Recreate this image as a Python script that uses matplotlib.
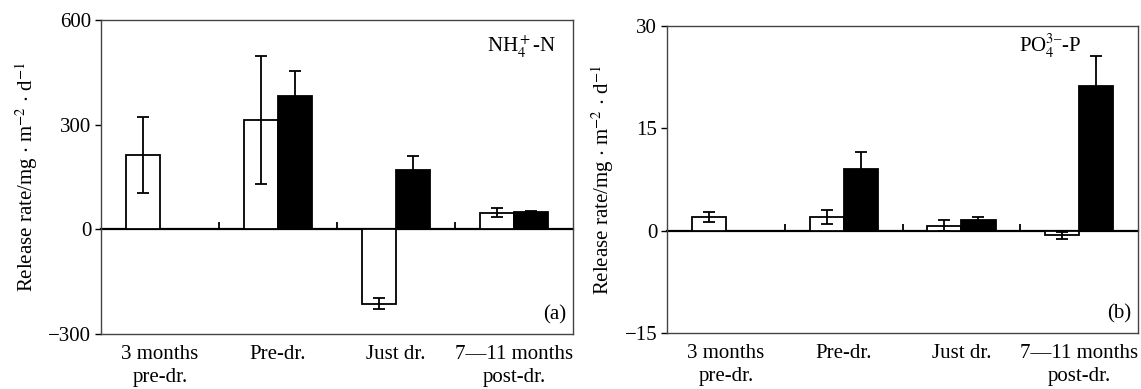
import numpy as np
import matplotlib.pyplot as plt

# Release rates; white = first series, black = second series
periods = ["3 months\npre-dr.", "Pre-dr.", "Just dr.", "7\u201411 months\npost-dr."]

nh4_white = [213, 313, -213, 48]
nh4_white_err = [108, 184, 16, 12]
nh4_black = [np.nan, 381, 171, 49]
nh4_black_err = [np.nan, 74, 39, 5]

po4_white = [2.0, 2.0, 0.7, -0.7]
po4_white_err = [0.7, 1.0, 0.8, 0.5]
po4_black = [np.nan, 9.1, 1.6, 21.2]
po4_black_err = [np.nan, 2.4, 0.4, 4.4]

plt.rcParams["font.family"] = ["Liberation Serif", "DejaVu Serif"]
plt.rcParams["mathtext.fontset"] = "stix"
plt.rcParams["font.size"] = 15
plt.rcParams["axes.unicode_minus"] = True

BAR_W = 0.29


def draw_panel(ax, white, white_err, black, black_err, ylim, yticks,
               species, species_xy, tag):
    x = np.arange(len(periods))
    white = np.asarray(white, dtype=float)
    black = np.asarray(black, dtype=float)
    err_kw = dict(ecolor="black", elinewidth=1.3, capsize=4, capthick=1.3)

    m = np.isfinite(white)
    ax.bar(x[m] - BAR_W / 2, white[m], BAR_W, color="white", edgecolor="black",
           linewidth=1.3, yerr=np.asarray(white_err)[m], error_kw=err_kw, zorder=2)
    m = np.isfinite(black)
    ax.bar(x[m] + BAR_W / 2, black[m], BAR_W, color="black", edgecolor="black",
           linewidth=1.3, yerr=np.asarray(black_err)[m], error_kw=err_kw, zorder=2)

    ax.set_xlim(-0.5, len(periods) - 0.5)
    ax.set_ylim(*ylim)
    ax.set_yticks(yticks)
    ax.set_xticks(x)
    ax.set_xticklabels(periods, linespacing=1.3)
    ax.tick_params(axis="x", length=0, pad=8)
    ax.tick_params(axis="y", direction="out", length=4, width=1, pad=3)
    for sp in ax.spines.values():
        sp.set_color("#444444")
        sp.set_linewidth(1.0)

    # zero line with small separators between the periods
    zero_frac = (0 - ylim[0]) / (ylim[1] - ylim[0])
    sec = ax.secondary_xaxis(zero_frac)
    sec.set_xticks(x[:-1] + 0.5)
    sec.tick_params(direction="in", length=5, width=1.3, labelbottom=False, labeltop=False)
    sec.spines["bottom"].set_linewidth(1.6)
    sec.spines["top"].set_linewidth(1.6)

    ax.set_ylabel(r"Release rate/mg $\cdot$ m$^{-2}$ $\cdot$ d$^{-1}$", labelpad=6)
    ax.text(*species_xy, species, transform=ax.transAxes, ha="right", va="center")
    ax.text(0.985, 0.03, tag, transform=ax.transAxes, ha="right", va="bottom")


fig = plt.figure(figsize=(11.41, 3.89), dpi=100)
ax_a = fig.add_axes([0.0885, 0.1414, 0.4137, 0.807])
ax_b = fig.add_axes([0.5846, 0.144, 0.4128, 0.789])

draw_panel(ax_a, nh4_white, nh4_white_err, nh4_black, nh4_black_err,
           (-300, 600), [-300, 0, 300, 600], r"NH$_4^+$-N", (0.965, 0.915), "(a)")
draw_panel(ax_b, po4_white, po4_white_err, po4_black, po4_black_err,
           (-15, 30), [-15, 0, 15, 30], "PO$_4^{3\u2013}$-P", (0.88, 0.935), "(b)")

fig.savefig("out.png", dpi=100)
